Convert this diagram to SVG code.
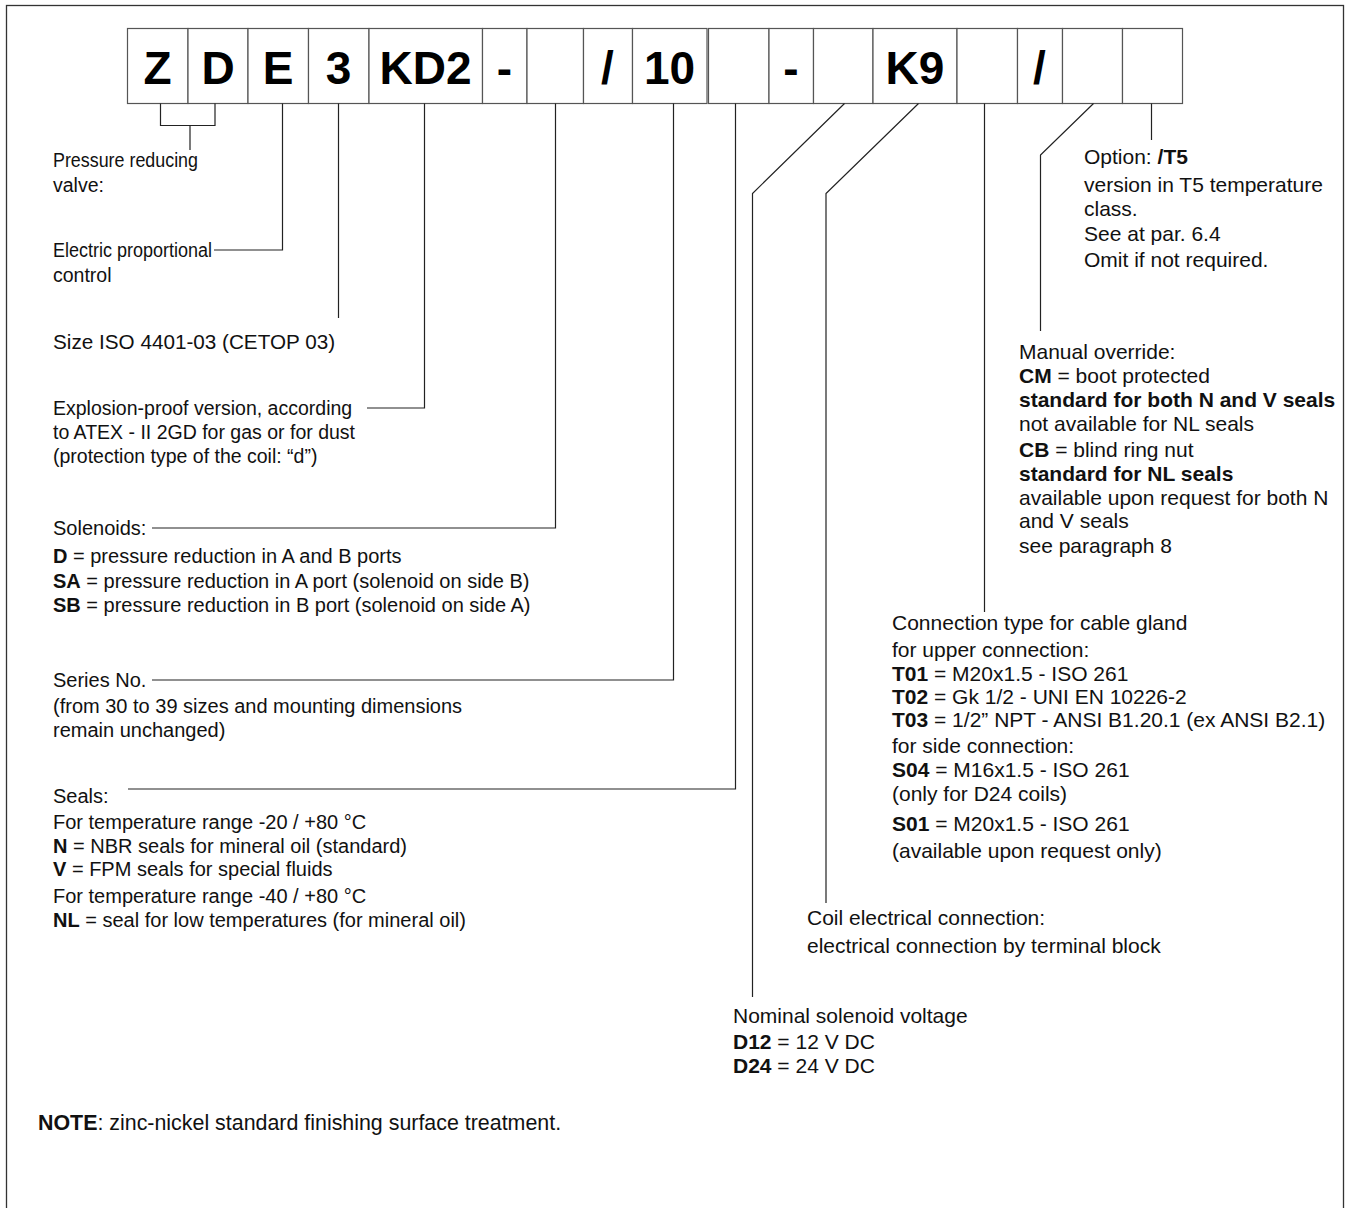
<svg xmlns="http://www.w3.org/2000/svg" width="1346" height="1208" viewBox="0 0 1346 1208">
<style>
.frame{fill:none;stroke:#333;stroke-width:1.3}
.box{fill:#fff;stroke:#555;stroke-width:1.2}
.code{font-family:"Liberation Sans",Arial,sans-serif;font-weight:bold;font-size:46px;fill:#000;text-anchor:middle}
.t{font-family:"Liberation Sans",Arial,sans-serif;font-size:20px;fill:#111}
.s19{font-size:19.5px}
.s195{font-size:19.5px}
.s207{font-size:20.7px}
.s21{font-size:21px}
.s214{font-size:21.4px}
.b{font-weight:bold}
.ln{fill:none;stroke:#222;stroke-width:1.2}
</style>
<rect class="frame" x="6.5" y="5.5" width="1337" height="1210"/>
<g id="code-boxes">
<g id="box-Z"><rect class="box" x="127.5" y="28.5" width="60.5" height="75"/><text class="code" x="157.5" y="84">Z</text></g>
<g id="box-D"><rect class="box" x="188" y="28.5" width="60" height="75"/><text class="code" x="218" y="84">D</text></g>
<g id="box-E"><rect class="box" x="248" y="28.5" width="60.5" height="75"/><text class="code" x="278" y="84">E</text></g>
<g id="box-3"><rect class="box" x="308.5" y="28.5" width="60.5" height="75"/><text class="code" x="338.5" y="84">3</text></g>
<g id="box-KD2"><rect class="box" x="369" y="28.5" width="113.5" height="75"/><text class="code" x="425.5" y="84">KD2</text></g>
<g id="box-dash1"><rect class="box" x="482.5" y="28.5" width="44.5" height="75"/><text class="code" x="504.5" y="84">-</text></g>
<g id="box-solenoids"><rect class="box" x="527" y="28.5" width="56.5" height="75"/></g>
<g id="box-slash1"><rect class="box" x="583.5" y="28.5" width="49" height="75"/><text class="code" x="607.5" y="84">/</text></g>
<g id="box-10"><rect class="box" x="632.5" y="28.5" width="74.5" height="75"/><text class="code" x="669.5" y="84">10</text></g>
<g id="box-seals"><rect class="box" x="708.5" y="28.5" width="60.5" height="75"/></g>
<g id="box-dash2"><rect class="box" x="769" y="28.5" width="44.5" height="75"/><text class="code" x="791" y="84">-</text></g>
<g id="box-voltage"><rect class="box" x="813.5" y="28.5" width="59.5" height="75"/></g>
<g id="box-K9"><rect class="box" x="873" y="28.5" width="84" height="75"/><text class="code" x="915" y="84">K9</text></g>
<g id="box-connection"><rect class="box" x="957" y="28.5" width="60.5" height="75"/></g>
<g id="box-slash2"><rect class="box" x="1017.5" y="28.5" width="45" height="75"/><text class="code" x="1039.5" y="84">/</text></g>
<g id="box-override"><rect class="box" x="1062.5" y="28.5" width="60" height="75"/></g>
<g id="box-option"><rect class="box" x="1122.5" y="28.5" width="60" height="75"/></g>
</g>
<g id="connectors">
<path class="ln" d="M160.5,103.5 V125.5 H215 V103.5 M190,125.5 V150"/>
<path class="ln" d="M282.5,103.5 V250 H214"/>
<path class="ln" d="M338.5,103.5 V318"/>
<path class="ln" d="M424.5,103.5 V408 H367"/>
<path class="ln" d="M555.5,103.5 V528 H152"/>
<path class="ln" d="M673.5,103.5 V680 H152"/>
<path class="ln" d="M735.5,103.5 V789 H128"/>
<path class="ln" d="M844.5,103.5 L752.5,193.5 V997"/>
<path class="ln" d="M918.5,103.5 L826,193.5 V903"/>
<path class="ln" d="M984.5,103.5 V612"/>
<path class="ln" d="M1093.5,103.5 L1040.5,155 V331"/>
<path class="ln" d="M1151.5,103.5 V140"/>
</g>
<g id="label-valve"><text class="t s19" x="53" y="167" textLength="145" lengthAdjust="spacingAndGlyphs">Pressure reducing</text><text class="t s19" x="53" y="192">valve:</text></g>
<g id="label-control"><text class="t s19" x="53" y="257" textLength="159" lengthAdjust="spacingAndGlyphs">Electric proportional</text><text class="t s19" x="53" y="282">control</text></g>
<g id="label-size"><text class="t s207" x="53" y="349">Size ISO 4401-03 (CETOP 03)</text></g>
<g id="label-explosion"><text class="t s195" x="53" y="415">Explosion-proof version, according</text><text class="t s195" x="53" y="439">to ATEX - II 2GD for gas or for dust</text><text class="t s195" x="53" y="463">(protection type of the coil: “d”)</text></g>
<g id="label-solenoids"><text class="t" x="53" y="535">Solenoids:</text>
<text class="t" x="53" y="563"><tspan class="b">D</tspan> = pressure reduction in A and B ports</text>
<text class="t" x="53" y="588"><tspan class="b">SA</tspan> = pressure reduction in A port (solenoid on side B)</text>
<text class="t" x="53" y="612"><tspan class="b">SB</tspan> = pressure reduction in B port (solenoid on side A)</text></g>
<g id="label-series"><text class="t" x="53" y="687">Series No.</text><text class="t" x="53" y="713">(from 30 to 39 sizes and mounting dimensions</text><text class="t" x="53" y="737">remain unchanged)</text></g>
<g id="label-seals"><text class="t" x="53" y="803">Seals:</text>
<text class="t" x="53" y="829">For temperature range -20 / +80 °C</text>
<text class="t" x="53" y="853"><tspan class="b">N</tspan> = NBR seals for mineral oil (standard)</text>
<text class="t" x="53" y="876"><tspan class="b">V</tspan> = FPM seals for special fluids</text>
<text class="t" x="53" y="903">For temperature range -40 / +80 °C</text>
<text class="t" x="53" y="927"><tspan class="b">NL</tspan> = seal for low temperatures (for mineral oil)</text></g>
<g id="label-note"><text class="t s214" x="38" y="1130"><tspan class="b">NOTE</tspan>: zinc-nickel standard finishing surface treatment.</text></g>
<g id="label-option"><text class="t s21" x="1084" y="164">Option: <tspan class="b">/T5</tspan></text>
<text class="t s21" x="1084" y="192">version in T5 temperature</text>
<text class="t s21" x="1084" y="216">class.</text>
<text class="t s21" x="1084" y="241">See at par. 6.4</text>
<text class="t s21" x="1084" y="267">Omit if not required.</text></g>
<g id="label-override"><text class="t s21" x="1019" y="359">Manual override:</text>
<text class="t s21" x="1019" y="383"><tspan class="b">CM</tspan> = boot protected</text>
<text class="t s21 b" x="1019" y="407">standard for both N and V seals</text>
<text class="t s21" x="1019" y="431">not available for NL seals</text>
<text class="t s21" x="1019" y="457"><tspan class="b">CB</tspan> = blind ring nut</text>
<text class="t s21 b" x="1019" y="481">standard for NL seals</text>
<text class="t s21" x="1019" y="505">available upon request for both N</text>
<text class="t s21" x="1019" y="528">and V seals</text>
<text class="t s21" x="1019" y="553">see paragraph 8</text></g>
<g id="label-connection"><text class="t s21" x="892" y="630">Connection type for cable gland</text>
<text class="t s21" x="892" y="657">for upper connection:</text>
<text class="t s21" x="892" y="681"><tspan class="b">T01</tspan> = M20x1.5 - ISO 261</text>
<text class="t s21" x="892" y="704"><tspan class="b">T02</tspan> = Gk 1/2 - UNI EN 10226-2</text>
<text class="t s21" x="892" y="727"><tspan class="b">T03</tspan> = 1/2” NPT - ANSI B1.20.1 (ex ANSI B2.1)</text>
<text class="t s21" x="892" y="753">for side connection:</text>
<text class="t s21" x="892" y="777"><tspan class="b">S04</tspan> = M16x1.5 - ISO 261</text>
<text class="t s21" x="892" y="801">(only for D24 coils)</text>
<text class="t s21" x="892" y="831"><tspan class="b">S01</tspan> = M20x1.5 - ISO 261</text>
<text class="t s21" x="892" y="858">(available upon request only)</text></g>
<g id="label-coil"><text class="t s21" x="807" y="925">Coil electrical connection:</text>
<text class="t s21" x="807" y="953">electrical connection by terminal block</text></g>
<g id="label-voltage"><text class="t s21" x="733" y="1023">Nominal solenoid voltage</text>
<text class="t s21" x="733" y="1049"><tspan class="b">D12</tspan> = 12 V DC</text>
<text class="t s21" x="733" y="1073"><tspan class="b">D24</tspan> = 24 V DC</text></g>
</svg>
